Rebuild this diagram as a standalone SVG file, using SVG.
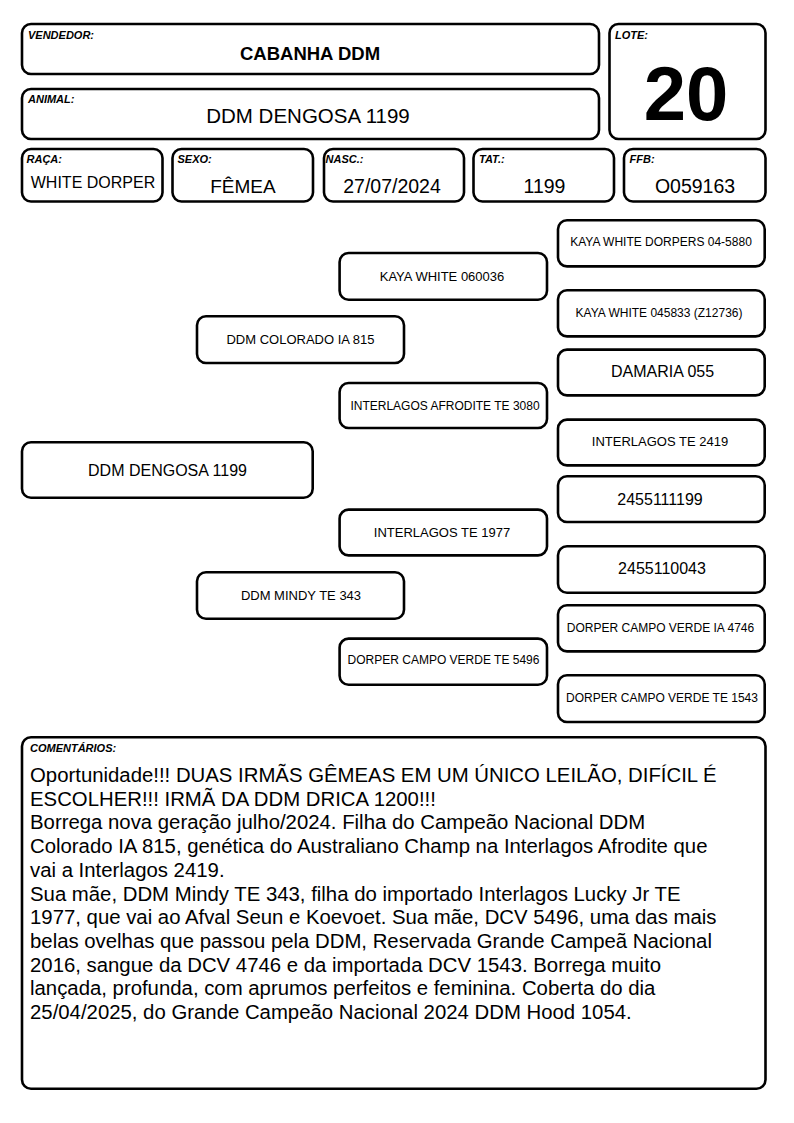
<svg xmlns="http://www.w3.org/2000/svg" width="794" height="1123" viewBox="0 0 794 1123">
<style>
.box{fill:#fff;stroke:#000;stroke-width:2.6}
.lbl{font-family:"Liberation Sans",Arial,sans-serif;font-size:11px;font-weight:bold;font-style:italic;fill:#000}
.val{font-family:"Liberation Sans",Arial,sans-serif;fill:#000;text-anchor:middle}
.p13{font-family:"Liberation Sans",Arial,sans-serif;font-size:13px;fill:#000;text-anchor:middle}
.p12{font-family:"Liberation Sans",Arial,sans-serif;font-size:12px;fill:#000;text-anchor:middle}
.p16{font-family:"Liberation Sans",Arial,sans-serif;font-size:16px;fill:#000;text-anchor:middle}
.cm{font-family:"Liberation Sans",Arial,sans-serif;font-size:20.35px;fill:#000}
</style>
<rect width="794" height="1123" fill="#fff"/>

<g id="vendedor">
<rect class="box" x="22" y="24" width="577" height="50" rx="9"/>
<text class="lbl" x="28" y="39">VENDEDOR:</text>
<text class="val" x="310" y="60" font-size="18.5" font-weight="bold">CABANHA DDM</text>
</g>
<g id="animal">
<rect class="box" x="22" y="89" width="577" height="50" rx="9"/>
<text class="lbl" x="28" y="102.5">ANIMAL:</text>
<text class="val" x="308" y="122.5" font-size="20.5">DDM DENGOSA 1199</text>
</g>
<g id="lote">
<rect class="box" x="609.5" y="24" width="156" height="115" rx="9"/>
<text class="lbl" x="615" y="39">LOTE:</text>
<text class="val" x="686" y="119.5" font-size="76" font-weight="bold">20</text>
</g>
<g id="raca">
<rect class="box" x="22" y="149" width="140.5" height="52.5" rx="9"/>
<text class="lbl" x="26.5" y="163">RAÇA:</text>
<text class="val" x="93" y="187.5" font-size="16">WHITE DORPER</text>
</g>
<g id="sexo">
<rect class="box" x="172.5" y="149" width="140.5" height="52.5" rx="9"/>
<text class="lbl" x="177.5" y="163">SEXO:</text>
<text class="val" x="243" y="193" font-size="19">FÊMEA</text>
</g>
<g id="nasc">
<rect class="box" x="324" y="149" width="140" height="52.5" rx="9"/>
<text class="lbl" x="325.5" y="163">NASC.:</text>
<text class="val" x="392" y="193" font-size="19.5">27/07/2024</text>
</g>
<g id="tat">
<rect class="box" x="473.5" y="149" width="140.5" height="52.5" rx="9"/>
<text class="lbl" x="479" y="163">TAT.:</text>
<text class="val" x="544.5" y="193" font-size="19.5">1199</text>
</g>
<g id="ffb">
<rect class="box" x="624" y="149" width="141.5" height="52.5" rx="9"/>
<text class="lbl" x="629.5" y="163">FFB:</text>
<text class="val" x="695" y="193" font-size="19.5">O059163</text>
</g>

<g id="connectors"></g>

<g id="p-main">
<rect class="box" x="22" y="442.3" width="290.7" height="55.5" rx="9"/>
<text class="p16" x="167.5" y="475.5">DDM DENGOSA 1199</text>
</g>
<g id="p-sire">
<rect class="box" x="197" y="316.3" width="207" height="46.7" rx="9"/>
<text class="p13" x="300.5" y="344.3">DDM COLORADO IA 815</text>
</g>
<g id="p-dam">
<rect class="box" x="197" y="572.3" width="207" height="46.4" rx="9"/>
<text class="p13" x="301" y="600.2">DDM MINDY TE 343</text>
</g>
<g id="p-ss">
<rect class="box" x="339.6" y="253" width="207.4" height="46.7" rx="9"/>
<text class="p13" x="442" y="281">KAYA WHITE 060036</text>
</g>
<g id="p-sd">
<rect class="box" x="339.6" y="383" width="207.4" height="45" rx="9"/>
<text class="p12" x="445" y="409.8">INTERLAGOS AFRODITE TE 3080</text>
</g>
<g id="p-ds">
<rect class="box" x="339.6" y="509.6" width="207.4" height="45.8" rx="9"/>
<text class="p13" x="442" y="537.2">INTERLAGOS TE 1977</text>
</g>
<g id="p-dd">
<rect class="box" x="339.6" y="638.6" width="207.4" height="46.1" rx="9"/>
<text class="p12" x="443.5" y="664">DORPER CAMPO VERDE TE 5496</text>
</g>
<g id="p-sss">
<rect class="box" x="558" y="220.3" width="206.7" height="46.1" rx="9"/>
<text class="p12" x="661" y="246">KAYA WHITE DORPERS 04-5880</text>
</g>
<g id="p-ssd">
<rect class="box" x="558" y="290.3" width="206.7" height="46.1" rx="9"/>
<text class="p12" x="659" y="317.2">KAYA WHITE 045833 (Z12736)</text>
</g>
<g id="p-sds">
<rect class="box" x="558" y="349.6" width="206.7" height="45.8" rx="9"/>
<text class="p16" x="662.5" y="377">DAMARIA 055</text>
</g>
<g id="p-sdd">
<rect class="box" x="558" y="419.6" width="206.7" height="45.8" rx="9"/>
<text class="p13" x="660" y="446">INTERLAGOS TE 2419</text>
</g>
<g id="p-dss">
<rect class="box" x="558" y="476.3" width="206.7" height="45.7" rx="9"/>
<text class="p16" x="660" y="505">2455111199</text>
</g>
<g id="p-dsd">
<rect class="box" x="558" y="546.3" width="206.7" height="46.4" rx="9"/>
<text class="p16" x="662" y="574">2455110043</text>
</g>
<g id="p-dds">
<rect class="box" x="558" y="605.3" width="206.7" height="46.1" rx="9"/>
<text class="p12" x="660.5" y="631.5">DORPER CAMPO VERDE IA 4746</text>
</g>
<g id="p-ddd">
<rect class="box" x="558" y="675.3" width="206.7" height="46.7" rx="9"/>
<text class="p12" x="662" y="702">DORPER CAMPO VERDE TE 1543</text>
</g>

<g id="comentarios">
<rect class="box" x="22" y="737.3" width="743.5" height="351.5" rx="9"/>
<text class="lbl" x="30" y="752">COMENTÁRIOS:</text>
<text class="cm" x="30" y="782">
<tspan x="30" y="782">Oportunidade!!! DUAS IRMÃS GÊMEAS EM UM ÚNICO LEILÃO, DIFÍCIL É</tspan>
<tspan x="30" y="805.7">ESCOLHER!!! IRMÃ DA DDM DRICA 1200!!!</tspan>
<tspan x="30" y="829.4">Borrega nova geração julho/2024. Filha do Campeão Nacional DDM</tspan>
<tspan x="30" y="853.1">Colorado IA 815, genética do Australiano Champ na Interlagos Afrodite que</tspan>
<tspan x="30" y="876.8">vai a Interlagos 2419.</tspan>
<tspan x="30" y="900.5">Sua mãe, DDM Mindy TE 343, filha do importado Interlagos Lucky Jr TE</tspan>
<tspan x="30" y="924.2">1977, que vai ao Afval Seun e Koevoet. Sua mãe, DCV 5496, uma das mais</tspan>
<tspan x="30" y="947.9">belas ovelhas que passou pela DDM, Reservada Grande Campeã Nacional</tspan>
<tspan x="30" y="971.6">2016, sangue da DCV 4746 e da importada DCV 1543. Borrega muito</tspan>
<tspan x="30" y="995.3">lançada, profunda, com aprumos perfeitos e feminina. Coberta do dia</tspan>
<tspan x="30" y="1019">25/04/2025, do Grande Campeão Nacional 2024 DDM Hood 1054.</tspan>
</text>
</g>
</svg>
